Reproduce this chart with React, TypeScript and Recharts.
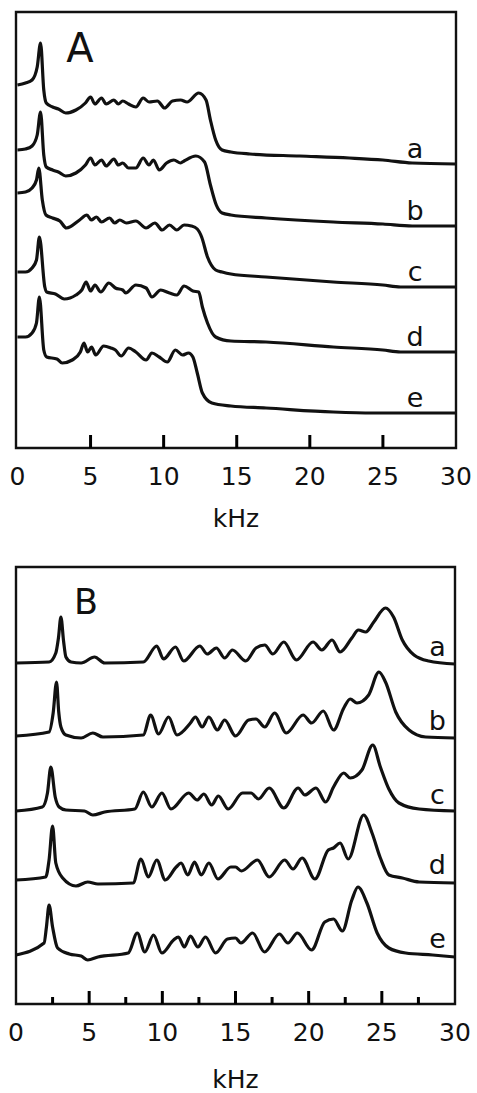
import { LineChart, Line, XAxis, YAxis, ReferenceDot, ReferenceArea } from "recharts";

const FONT = "'DejaVu Sans', 'Liberation Sans', sans-serif";
const INK = "#111";

// spectra labels and vertical stack offsets (intensity units)
const traceLabels = ["a", "b", "c", "d", "e"];
const offsetsA = [284, 222, 161, 96, 35];
const offsetsB = [341, 267, 193, 123, 49];

const ticksA = [0, 5, 10, 15, 20, 25, 30];
const ticksB = [0, 2.5, 5, 7.5, 10, 12.5, 15, 17.5, 20, 22.5, 25, 27.5, 30];

// panel A: [kHz, intensity]
const specAa: [number, number][] = [[0,79],[0.55,81],[1.0,84],[1.35,97],[1.58,121],[1.8,74],[1.97,61],[2.4,57],[2.8,55],[3.3,51],[4.0,54],[4.65,61],[5.0,67],[5.3,60],[5.75,66],[6.07,60],[6.6,64],[6.9,60],[7.2,63],[7.6,60],[8.1,57],[8.6,66],[9.0,62],[9.57,63],[10.07,56],[10.6,63],[11.16,64],[11.6,62],[12.4,71],[12.9,64],[13.2,44],[13.56,24],[14.0,14],[14.6,12],[15.9,10],[19.3,8],[22.7,6],[25,4],[27,1],[30,0]];
const specAb: [number, number][] = [[0,76],[0.55,77],[1.0,80],[1.35,91],[1.58,114],[1.8,71],[1.97,59],[2.4,56],[2.8,54],[3.3,50],[4.0,53],[4.65,61],[5.0,68],[5.3,61],[5.75,66],[6.07,60],[6.6,67],[6.9,61],[7.2,63],[7.6,58],[8.1,58],[8.6,68],[9.0,61],[9.3,66],[9.7,56],[10.2,63],[10.7,66],[11.16,63],[11.4,65],[12.2,70],[12.8,64],[13.2,41],[13.6,21],[14.0,13],[14.6,11],[17,8],[21.6,4],[25,2],[27,0],[30,0]];
const specAc: [number, number][] = [[0,94],[0.55,95],[1.0,99],[1.3,107],[1.46,119],[1.7,87],[1.95,72],[2.4,69],[2.9,66],[3.35,59],[4.25,67],[4.75,72],[5.05,67],[5.4,70],[5.75,65],[6.3,69],[6.65,64],[7.0,67],[7.45,64],[8.1,66],[8.8,59],[9.4,64],[9.9,57],[10.4,62],[10.9,57],[11.4,62],[11.9,61],[12.3,58],[12.6,50],[13.0,30],[13.56,17],[14.0,15],[14.6,13],[17,10],[21.6,5],[25,2],[26.2,0],[30,0]];
const specAd: [number, number][] = [[0,80],[0.55,80],[1.0,84],[1.3,92],[1.5,115],[1.87,65],[2.0,60],[2.6,58],[3.2,53],[4.0,57],[4.4,62],[4.7,70],[5.0,61],[5.3,67],[5.7,60],[6.25,69],[6.7,64],[7.2,62],[7.4,59],[8.1,67],[8.8,64],[9.2,55],[9.8,62],[10.4,59],[10.9,57],[11.4,66],[12.0,61],[12.4,60],[12.65,45],[13.0,29],[13.56,15],[14.6,11],[17,10],[21.6,5],[25,2],[26.2,0],[30,0]];
const specAe: [number, number][] = [[0,76],[0.55,76],[1.0,80],[1.3,90],[1.5,116],[1.8,63],[2.0,56],[2.7,54],[3.06,50],[3.75,53],[4.3,61],[4.55,70],[4.8,61],[5.07,66],[5.35,58],[5.9,67],[6.4,65],[6.7,63],[7.1,57],[7.6,65],[8.1,61],[8.8,53],[9.2,60],[9.7,56],[10.25,51],[10.8,63],[11.3,58],[11.7,60],[12.0,56],[12.3,40],[12.65,20],[13.3,10],[14.6,7],[17,5],[21.6,1],[24.3,0],[30,0]];

// panel B: [kHz, intensity]
const specBa: [number, number][] = [[0,0],[2.26,1],[2.72,10],[2.9,25],[3.07,46],[3.25,22],[3.41,6],[3.76,1],[4.45,0],[5.37,6],[6.06,0],[8.7,1],[9.62,17],[10.08,4],[10.9,16],[11.46,2],[12.56,17],[13.07,9],[13.69,15],[14.26,5],[14.79,13],[15.7,2],[16.4,15],[17.0,18],[17.55,9],[18.3,21],[19.16,3],[20.3,21],[20.9,13],[21.6,23],[22.15,11],[22.95,25],[23.4,33],[23.9,31],[24.45,41],[25.25,55],[25.8,46],[26.4,23],[27.2,8],[28.2,2],[30,-1]];
const specBb: [number, number][] = [[0,1],[2.26,5],[2.54,24],[2.77,55],[2.92,25],[3.07,10],[3.41,2],[4.45,-1],[5.25,4],[5.94,0],[8.7,2],[9.2,22],[9.74,3],[10.43,20],[11.0,2],[11.92,14],[12.26,20],[12.72,10],[13.18,20],[13.76,7],[14.26,17],[15.0,1],[15.9,17],[16.4,18],[17.0,10],[17.67,24],[18.47,4],[19.62,22],[20.2,14],[21.0,26],[21.7,7],[22.4,29],[22.84,38],[23.3,34],[24.1,42],[24.8,65],[25.25,55],[25.95,25],[26.86,7],[28.0,0],[30,-1]];
const specBc: [number, number][] = [[0,0],[1.8,4],[2.15,18],[2.38,44],[2.68,14],[2.95,4],[3.41,1],[4.68,0],[5.25,-4],[6.06,-1],[8.12,2],[8.7,19],[9.28,4],[9.97,18],[10.59,2],[11.8,18],[12.38,11],[12.84,17],[13.37,6],[13.83,15],[14.5,2],[15.48,18],[16.06,18],[16.57,12],[17.3,23],[18.3,3],[19.28,23],[19.74,16],[20.5,23],[21.16,9],[21.7,24],[22.4,38],[22.84,33],[23.64,41],[24.38,66],[24.9,44],[25.48,22],[26.17,8],[27.55,2],[30,0]];
const specBd: [number, number][] = [[0,1],[2.03,4],[2.26,21],[2.5,55],[2.72,18],[3.19,3],[4.1,-5],[4.9,-1],[5.6,-3],[8.0,-2],[8.54,22],[9.04,4],[9.62,21],[10.2,1],[10.95,14],[11.28,18],[11.74,6],[12.2,19],[12.66,6],[13.18,18],[13.8,2],[14.68,14],[15.0,14],[15.4,10],[16.5,21],[17.3,4],[18.36,21],[18.93,12],[19.55,23],[20.43,2],[21.34,31],[21.7,33],[22.15,38],[22.7,22],[23.76,66],[24.33,48],[24.9,23],[25.48,6],[26.4,3],[27.55,-1],[30,-2]];
const specBe: [number, number][] = [[0,0],[1.92,12],[2.08,28],[2.26,50],[2.5,28],[2.84,7],[3.64,1],[4.45,-1],[4.9,-5],[5.6,-2],[7.67,2],[8.29,22],[8.8,3],[9.4,20],[9.97,2],[10.77,15],[11.1,18],[11.5,8],[11.92,19],[12.43,8],[12.95,18],[13.64,2],[14.45,16],[15.0,17],[15.37,12],[16.17,22],[16.98,3],[18.0,21],[18.58,12],[19.23,22],[20.2,5],[21.1,33],[21.7,36],[22.3,24],[22.95,55],[23.37,68],[23.98,52],[24.68,22],[25.48,7],[26.63,2],[28.47,0],[30,-2]];

const tracesA = [specAa, specAb, specAc, specAd, specAe];
const tracesB = [specBa, specBb, specBc, specBd, specBe];

const stack = (pts: [number, number][], off: number) => pts.map(([x, y]) => ({ x, y: y + off }));

// inward tick marks; labels only on the 5 kHz steps
const Tick = (props: any) => {
  const { x, y, payload } = props;
  const v = Number(payload.value);
  const major = v % 5 === 0;
  const edge = v === 0 || v === 30;
  const len = major ? 13 : 7;
  return (
    <g>
      {!edge && <path d={`M${x},${y}V${y - len}`} stroke="#000" strokeWidth={3} fill="none" />}
      {major && (
        <text x={x} y={y + 37} textAnchor="middle" fontSize={25} fontFamily={FONT} fill={INK}>
          {v}
        </text>
      )}
    </g>
  );
};

interface PanelProps {
  traces: [number, number][][];
  offsets: number[];
  ticks: number[];
  height: number;
  margin: { top: number; right: number; bottom: number; left: number };
  axisHeight: number;
  xDomain: [number, number];
  yMax: number;
  labelX: number;
  labelLift: number;
  kHzOffset: number;
}

function Panel({ traces, offsets, ticks, height, margin, axisHeight, xDomain, yMax, labelX, labelLift, kHzOffset }: PanelProps) {
  return (
    <LineChart width={477} height={height} margin={margin}>
      <XAxis
        type="number"
        dataKey="x"
        domain={xDomain}
        ticks={ticks}
        interval={0}
        tickSize={0}
        tickMargin={0}
        tickLine={false}
        tick={<Tick />}
        height={axisHeight}
        axisLine={false}
        label={{ value: "kHz", position: "insideBottom", offset: kHzOffset, fontSize: 25, fontFamily: FONT, fill: INK }}
      />
      <YAxis type="number" domain={[0, yMax]} hide />
      <ReferenceArea x1={xDomain[0]} x2={xDomain[1]} y1={0} y2={yMax} fill="none" stroke={INK} strokeWidth={2.4} />
      {traces.map((t, i) => (
        <Line
          key={i}
          data={stack(t, offsets[i])}
          dataKey="y"
          type="monotone"
          stroke={INK}
          strokeWidth={3.2}
          dot={false}
          isAnimationActive={false}
        />
      ))}
      {traceLabels.map((l, i) => (
        <ReferenceDot
          key={l}
          x={labelX}
          y={offsets[i] + labelLift}
          r={0}
          fill="none"
          stroke="none"
          label={{ value: l, position: "center", fontSize: 27, fontFamily: FONT, fill: INK }}
        />
      ))}
    </LineChart>
  );
}

export default function App() {
  return (
    <div style={{ position: "absolute", left: 0, top: 0, width: 477, height: 1093, background: "#fff" }}>
      <div style={{ position: "absolute", left: 0, top: 0 }}>
        <Panel
          traces={tracesA}
          offsets={offsetsA}
          ticks={ticksA}
          height={540}
          margin={{ top: 12, right: 21, bottom: 10, left: 16 }}
          axisHeight={82}
          xDomain={[-0.1, 30]}
          yMax={436}
          labelX={27.2}
          labelLift={16}
          kHzOffset={3}
        />
      </div>
      <div style={{ position: "absolute", left: 0, top: 555 }}>
        <Panel
          traces={tracesB}
          offsets={offsetsB}
          ticks={ticksB}
          height={538}
          margin={{ top: 12, right: 22, bottom: 4, left: 16 }}
          axisHeight={85}
          xDomain={[0, 30]}
          yMax={437}
          labelX={28.8}
          labelLift={17}
          kHzOffset={1}
        />
      </div>
      <svg width={477} height={1093} style={{ position: "absolute", left: 0, top: 0, pointerEvents: "none" }}>
        <text x={80} y={62} textAnchor="middle" fontSize={40} fontFamily={FONT} fill={INK}>A</text>
        <text x={86} y={614} textAnchor="middle" fontSize={35} fontFamily={FONT} fill={INK}>B</text>
      </svg>
    </div>
  );
}
